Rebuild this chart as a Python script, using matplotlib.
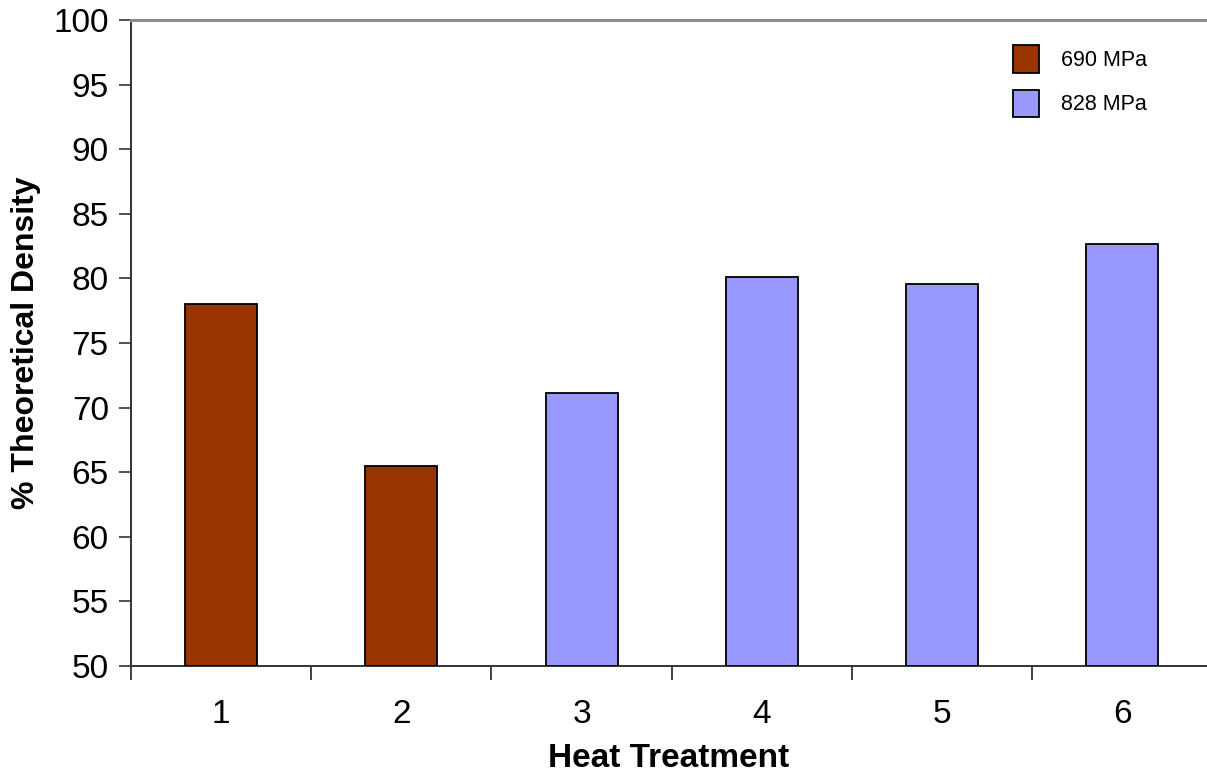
import matplotlib.pyplot as plt
import numpy as np

plt.rcParams['font.family'] = ['Liberation Sans', 'DejaVu Sans']

treatments = [1, 2, 3, 4, 5, 6]
density = [78.0, 65.5, 71.1, 80.1, 79.6, 82.7]
pressure = ['690 MPa', '690 MPa', '828 MPa', '828 MPa', '828 MPa', '828 MPa']
colors = {'690 MPa': '#993300', '828 MPa': '#9999FF'}

fig = plt.figure(figsize=(12.07, 7.73), dpi=100)
ax = fig.add_axes([131 / 1207, 107 / 773, 1 - 131 / 1207, (666 - 20) / 773])

seen = set()
for x, y, p in zip(treatments, density, pressure):
    lab = p if p not in seen else None
    seen.add(p)
    ax.bar(x, y - 50, bottom=50, width=0.4, color=colors[p],
           edgecolor='black', linewidth=1.3, label=lab, zorder=3)

ax.set_xlim(0.5, 6.47)
ax.set_ylim(50, 100)
ax.set_yticks(np.arange(50, 101, 5))
ax.set_xticks(treatments)
ax.set_xticks(np.arange(0.5, 6.0, 1.0), minor=True)
ax.tick_params(axis='x', which='major', length=0, labelsize=24, pad=24)
ax.tick_params(axis='x', which='minor', length=10, width=1.2, color='#222222')
ax.tick_params(axis='y', length=9, width=1.2, color='#333333', labelsize=24, pad=7)

ax.spines['right'].set_visible(False)
ax.spines['top'].set_color('#8c8c8c')
ax.spines['top'].set_linewidth(2.2)
for s in ['left', 'bottom']:
    ax.spines[s].set_color('#333333')
    ax.spines[s].set_linewidth(1.4)

ax.set_xlabel('Heat Treatment', fontsize=24, fontweight='bold', labelpad=9)
ax.set_ylabel('% Theoretical Density', fontsize=23, fontweight='bold', labelpad=9)

ax.legend(loc='upper right', bbox_to_anchor=(1166 / 1207, 1 - 26 / 773),
          bbox_transform=fig.transFigure, frameon=False, fontsize=15.5,
          handlelength=1.2, handleheight=1.6, labelspacing=0.77, handletextpad=1.0)

fig.savefig('out.png', dpi=100)
